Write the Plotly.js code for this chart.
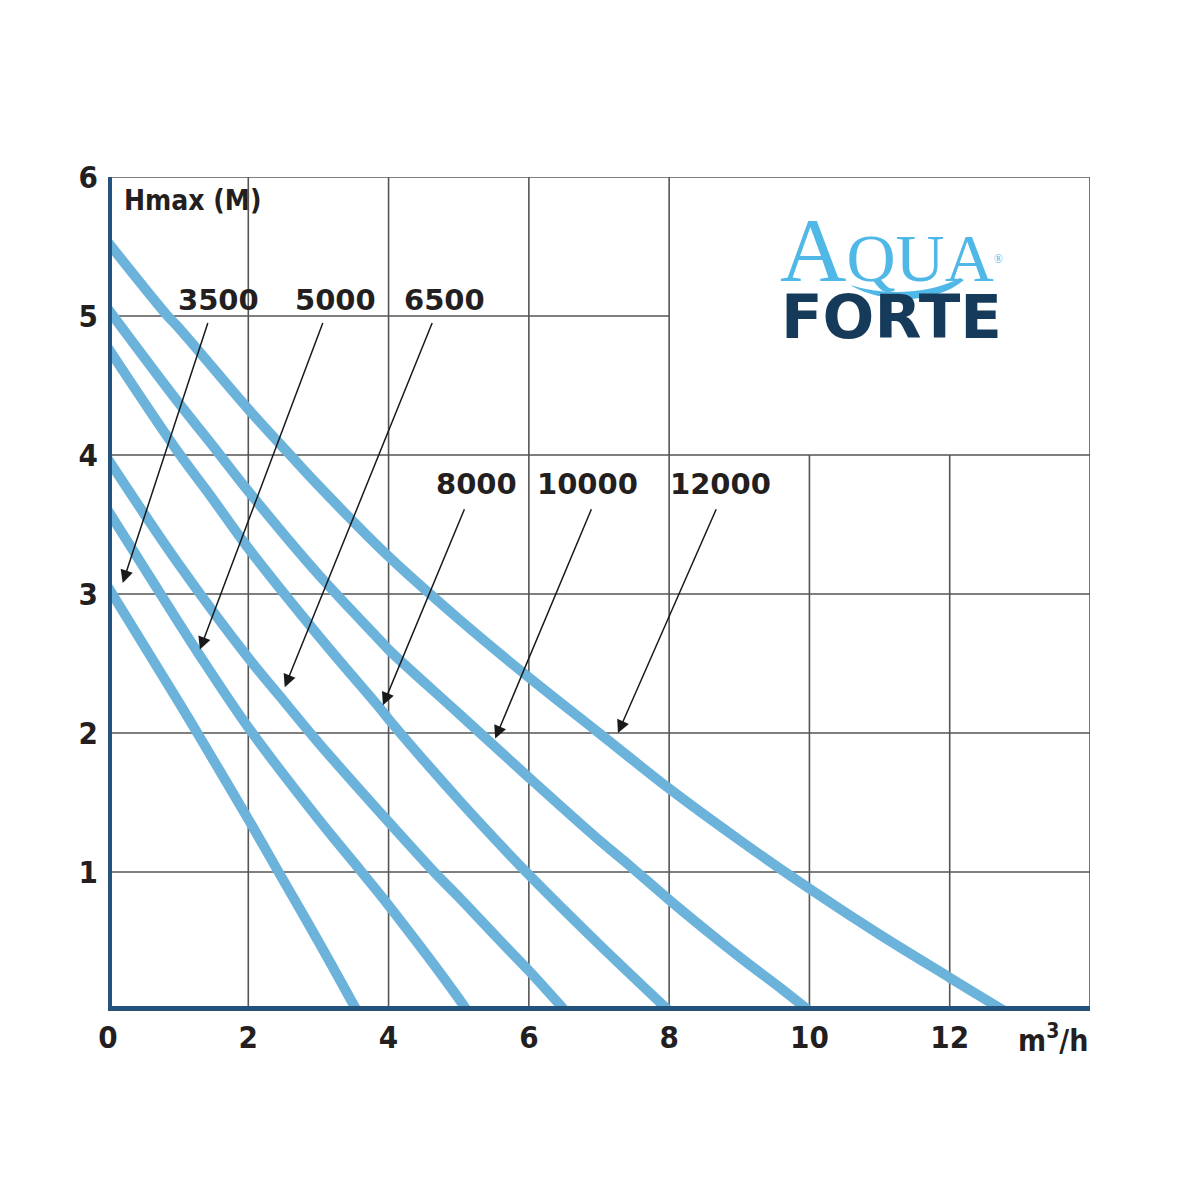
<!DOCTYPE html>
<html>
<head>
<meta charset="utf-8">
<script src="https://cdn.plot.ly/plotly-3.0.1.min.js"></script>
<style>html,body{margin:0;padding:0;background:#fff;}#chart{width:1200px;height:1200px;}</style>
</head>
<body>
<div id="chart"></div>
<script>
// ---- data (flow m3/h, head m) ----
const models = ['3500', '5000', '6500', '8000', '10000', '12000'];
const q3500 = [0, 1, 1.32, 2, 2.42, 3, 3.55];
const h3500 = [3.05, 2.23, 1.96, 1.38, 1.01, 0.5, 0];
const q5000 = [0, 1, 1.28, 2, 3, 3.6, 4, 5, 5.12];
const h5000 = [3.6, 2.8, 2.58, 2.04, 1.38, 1.01, 0.76, 0.09, 0];
const q6500 = [0, 1, 2, 2.49, 3, 4, 4.65, 5, 5.6, 6, 6.52];
const h6500 = [3.97, 3.22, 2.54, 2.24, 1.93, 1.36, 1.0, 0.82, 0.5, 0.29, 0];
const q8000 = [0, 1, 1.47, 2, 3, 3.89, 4, 5, 5.64, 6, 7, 8];
const h8000 = [4.77, 4.02, 3.70, 3.33, 2.7, 2.17, 2.1, 1.52, 1.17, 0.98, 0.48, 0];
const q10000 = [0, 1, 1.55, 2, 3, 3.89, 4, 5, 6, 7, 7.45, 8, 9, 9.6, 10];
const h10000 = [5.05, 4.38, 4.03, 3.74, 3.14, 2.66, 2.6, 2.14, 1.68, 1.23, 1.04, 0.8, 0.39, 0.16, 0];
const q12000 = [0, 0.85, 1, 2, 2.56, 3, 4, 5, 6, 7, 8, 9, 10, 11, 12, 12.78];
const h12000 = [5.53, 5.0, 4.92, 4.33, 4.02, 3.78, 3.27, 2.82, 2.40, 2.0, 1.6, 1.23, 0.88, 0.55, 0.24, 0];
const flows = [q3500, q5000, q6500, q8000, q10000, q12000];
const heads = [h3500, h5000, h6500, h8000, h10000, h12000];

const xTickVals = [0, 2, 4, 6, 8, 10, 12];
const xTickText = ['0', '2', '4', '6', '8', '10', '12'];
const yTickVals = [1, 2, 3, 4, 5, 6];
const yTickText = ['1', '2', '3', '4', '5', '6'];

// label positions and arrows (label text pos, arrow start, arrow tip)
const labelX = [1.58, 3.24, 4.80, 5.25, 6.84, 8.73];
const labelY = [5.115, 5.115, 5.115, 3.79, 3.79, 3.79];
const arrowStartX = [1.43, 3.07, 4.63, 5.09, 6.90, 8.68];
const arrowStartY = [4.96, 4.96, 4.96, 3.62, 3.62, 3.62];
const arrowTipX = [0.21, 1.31, 2.52, 3.92, 5.52, 7.27];
const arrowTipY = [3.08, 2.60, 2.33, 2.20, 1.96, 2.0];

// ---- styles ----
const curveColor = '#6cb3db';
const axisColor = '#23527a';
const gridColor = '#555555';
const textColor = '#231f20';
const condFont = (size) => ({family: '"DejaVu Sans Condensed", "DejaVu Sans", sans-serif', size, color: textColor, weight: 'bold', stretch: 'condensed'});

const traces = models.map((m, i) => ({
  type: 'scatter', mode: 'lines', name: m,
  x: flows[i], y: heads[i],
  line: {color: curveColor, width: 10, shape: 'spline', smoothing: 1},
  hoverinfo: 'skip'
}));

const shapes = [];
function gl(x0, y0, x1, y1) {
  shapes.push({type: 'line', xref: 'x', yref: 'y', x0, y0, x1, y1, layer: 'below',
    line: {color: gridColor, width: 1.6}});
}
[1, 2, 3, 4, 6].forEach(v => gl(0, v, 14, v));
gl(0, 5, 8, 5);
[2, 4, 6, 8, 14].forEach(v => gl(v, 0, v, 6));
[10, 12].forEach(v => gl(v, 0, v, 4));
// axes
shapes.push({type: 'line', xref: 'x', yref: 'y', x0: 0, y0: 0, x1: 0, y1: 6.01, layer: 'above',
  line: {color: axisColor, width: 8}});
shapes.push({type: 'line', xref: 'x', yref: 'y', x0: -0.057, y0: 0, x1: 14, y1: 0, layer: 'above',
  line: {color: axisColor, width: 10}});

// logo wave (decoration) in pixel->data helper
const L = 108, T = 177, PW = 982, PH = 834;
const px = p => ((p - L) / PW * 14).toFixed(4);
const py = p => ((T + PH - p) / PH * 6).toFixed(4);
shapes.push({type: 'path', xref: 'x', yref: 'y', layer: 'above',
  path: `M ${px(850)},${py(285)} C ${px(885)},${py(305)} ${px(935)},${py(304)} ${px(964)},${py(280)} ` +
        `L ${px(960)},${py(278)} C ${px(930)},${py(294)} ${px(885)},${py(296)} ${px(850)},${py(285)} Z`,
  fillcolor: '#4fb8e6', line: {width: 0}});

const annotations = [];
models.forEach((m, i) => {
  annotations.push({xref: 'x', yref: 'y', x: labelX[i], y: labelY[i], text: m, showarrow: false,
    font: {family: '"DejaVu Sans", sans-serif', size: 29, color: textColor, weight: 'bold'}});
  annotations.push({xref: 'x', yref: 'y', axref: 'x', ayref: 'y', x: arrowTipX[i], y: arrowTipY[i],
    ax: arrowStartX[i], ay: arrowStartY[i], text: '', showarrow: true,
    arrowhead: 2, arrowsize: 1.7, arrowwidth: 1.5, arrowcolor: '#1a1a1a', standoff: 0, startstandoff: 0});
});
annotations.push({xref: 'x', yref: 'y', x: 0.2, y: 5.83, xanchor: 'left', yanchor: 'middle',
  text: 'Hmax (M)', showarrow: false, font: condFont(28)});
annotations.push({xref: 'paper', yref: 'paper', x: 1.0, y: -0.033, xanchor: 'right', yanchor: 'middle',
  text: 'm<sup>3</sup>/h', showarrow: false, font: condFont(30)});
// logo text (single block)
annotations.push({xref: 'x', yref: 'y', x: 11.17, y: 5.295, xanchor: 'center', yanchor: 'middle',
  align: 'center', showarrow: false,
  text: '<span style="font-size:92px">A</span><span style="font-size:68px">QUA</span>' +
        '<sup><span style="font-size:12px">®</span></sup><br>' +
        '<span style="font-family:\'DejaVu Sans\';font-weight:bold;font-size:61px;fill:#163a5a">FORTE</span>',
  font: {family: '"Liberation Serif", "DejaVu Serif", serif', size: 44, color: '#4fb8e6'}});

const layout = {
  width: 1200, height: 1200,
  margin: {l: L, r: 1200 - L - PW, t: T, b: 1200 - T - PH, pad: 0},
  paper_bgcolor: '#ffffff', plot_bgcolor: '#ffffff',
  showlegend: false,
  xaxis: {range: [0, 14], showgrid: false, zeroline: false, showline: false, ticks: '',
    tickmode: 'array', tickvals: xTickVals, ticktext: xTickText, ticklabelstandoff: 5,
    tickfont: condFont(31), fixedrange: true},
  yaxis: {range: [0, 6], showgrid: false, zeroline: false, showline: false, ticks: '',
    tickmode: 'array', tickvals: yTickVals, ticktext: yTickText, ticklabelstandoff: 9,
    tickfont: condFont(31), fixedrange: true},
  shapes, annotations
};

Plotly.newPlot('chart', traces, layout, {staticPlot: true, displayModeBar: false});
</script>
</body>
</html>
